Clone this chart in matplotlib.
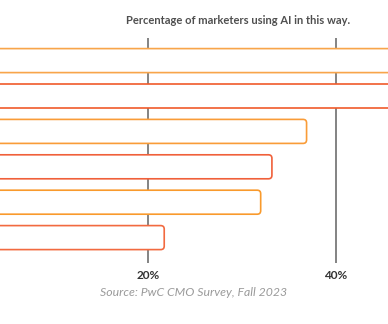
import matplotlib
matplotlib.use("Agg")
import matplotlib.pyplot as plt
from matplotlib.patches import FancyBboxPatch

# share of marketers (%) - top two bars run past the visible area
values = [55, 50, 36.9, 33.2, 32.0, 21.7]
colors = ['#f8a54a', '#f05a2a', '#f99c38', '#f0603a', '#f99a2c', '#f26a40']
ticks = [20, 40]
tick_labels = ['20%', '40%']
title = "Percentage of marketers using AI in this way."
source = "Source: PwC CMO Survey, Fall 2023"

W, H = 388, 324
fig = plt.figure(figsize=(W / 100, H / 100), dpi=100)
# axes covers the gridline area; the bars' start (0%) lies left of the image
ax = fig.add_axes([0, 1 - 263 / H, 1, 225 / H])

px_per_unit_x = 187.3 / 20
x0 = 20 - 148.3 / px_per_unit_x
x1 = x0 + W / px_per_unit_x
ax.set_xlim(x0, x1)
pitch = 35.4
ytop = -22.6 / pitch
ax.set_ylim(ytop + 225 / pitch, ytop)

bar_h = 24 / pitch
r = 3.5 / px_per_unit_x
aspect = (1 / pitch) / (1 / px_per_unit_x)
for i, (v, c) in enumerate(zip(values, colors)):
    p = FancyBboxPatch((0, i - bar_h / 2), v, bar_h,
                       boxstyle="round,pad=0,rounding_size=%f" % r,
                       mutation_aspect=aspect,
                       facecolor='white', edgecolor=c, linewidth=1.2, zorder=3)
    ax.add_patch(p)

ax.set_xticks(ticks)
ax.set_xticklabels(tick_labels, fontfamily='Lato', fontweight='bold',
                   fontsize=8.5, color='#333333')
ax.tick_params(axis='x', length=0, pad=5)
ax.tick_params(axis='y', left=False, labelleft=False)
ax.grid(axis='x', color='#6e6e6e', linewidth=1.2, zorder=1)
ax.set_axisbelow(True)
for s in ax.spines.values():
    s.set_visible(False)

fig.text(238 / W, 1 - 20 / H, title, ha='center', va='center',
         fontfamily='Lato', fontweight='bold', fontsize=8, color='#4f4f4f')
fig.text(193.7 / W, 1 - 293 / H, source, ha='center', va='center',
         fontfamily='Lato', fontstyle='italic',
         fontsize=8.8, color='#9a9a9a')

fig.savefig('out.png', dpi=100)
